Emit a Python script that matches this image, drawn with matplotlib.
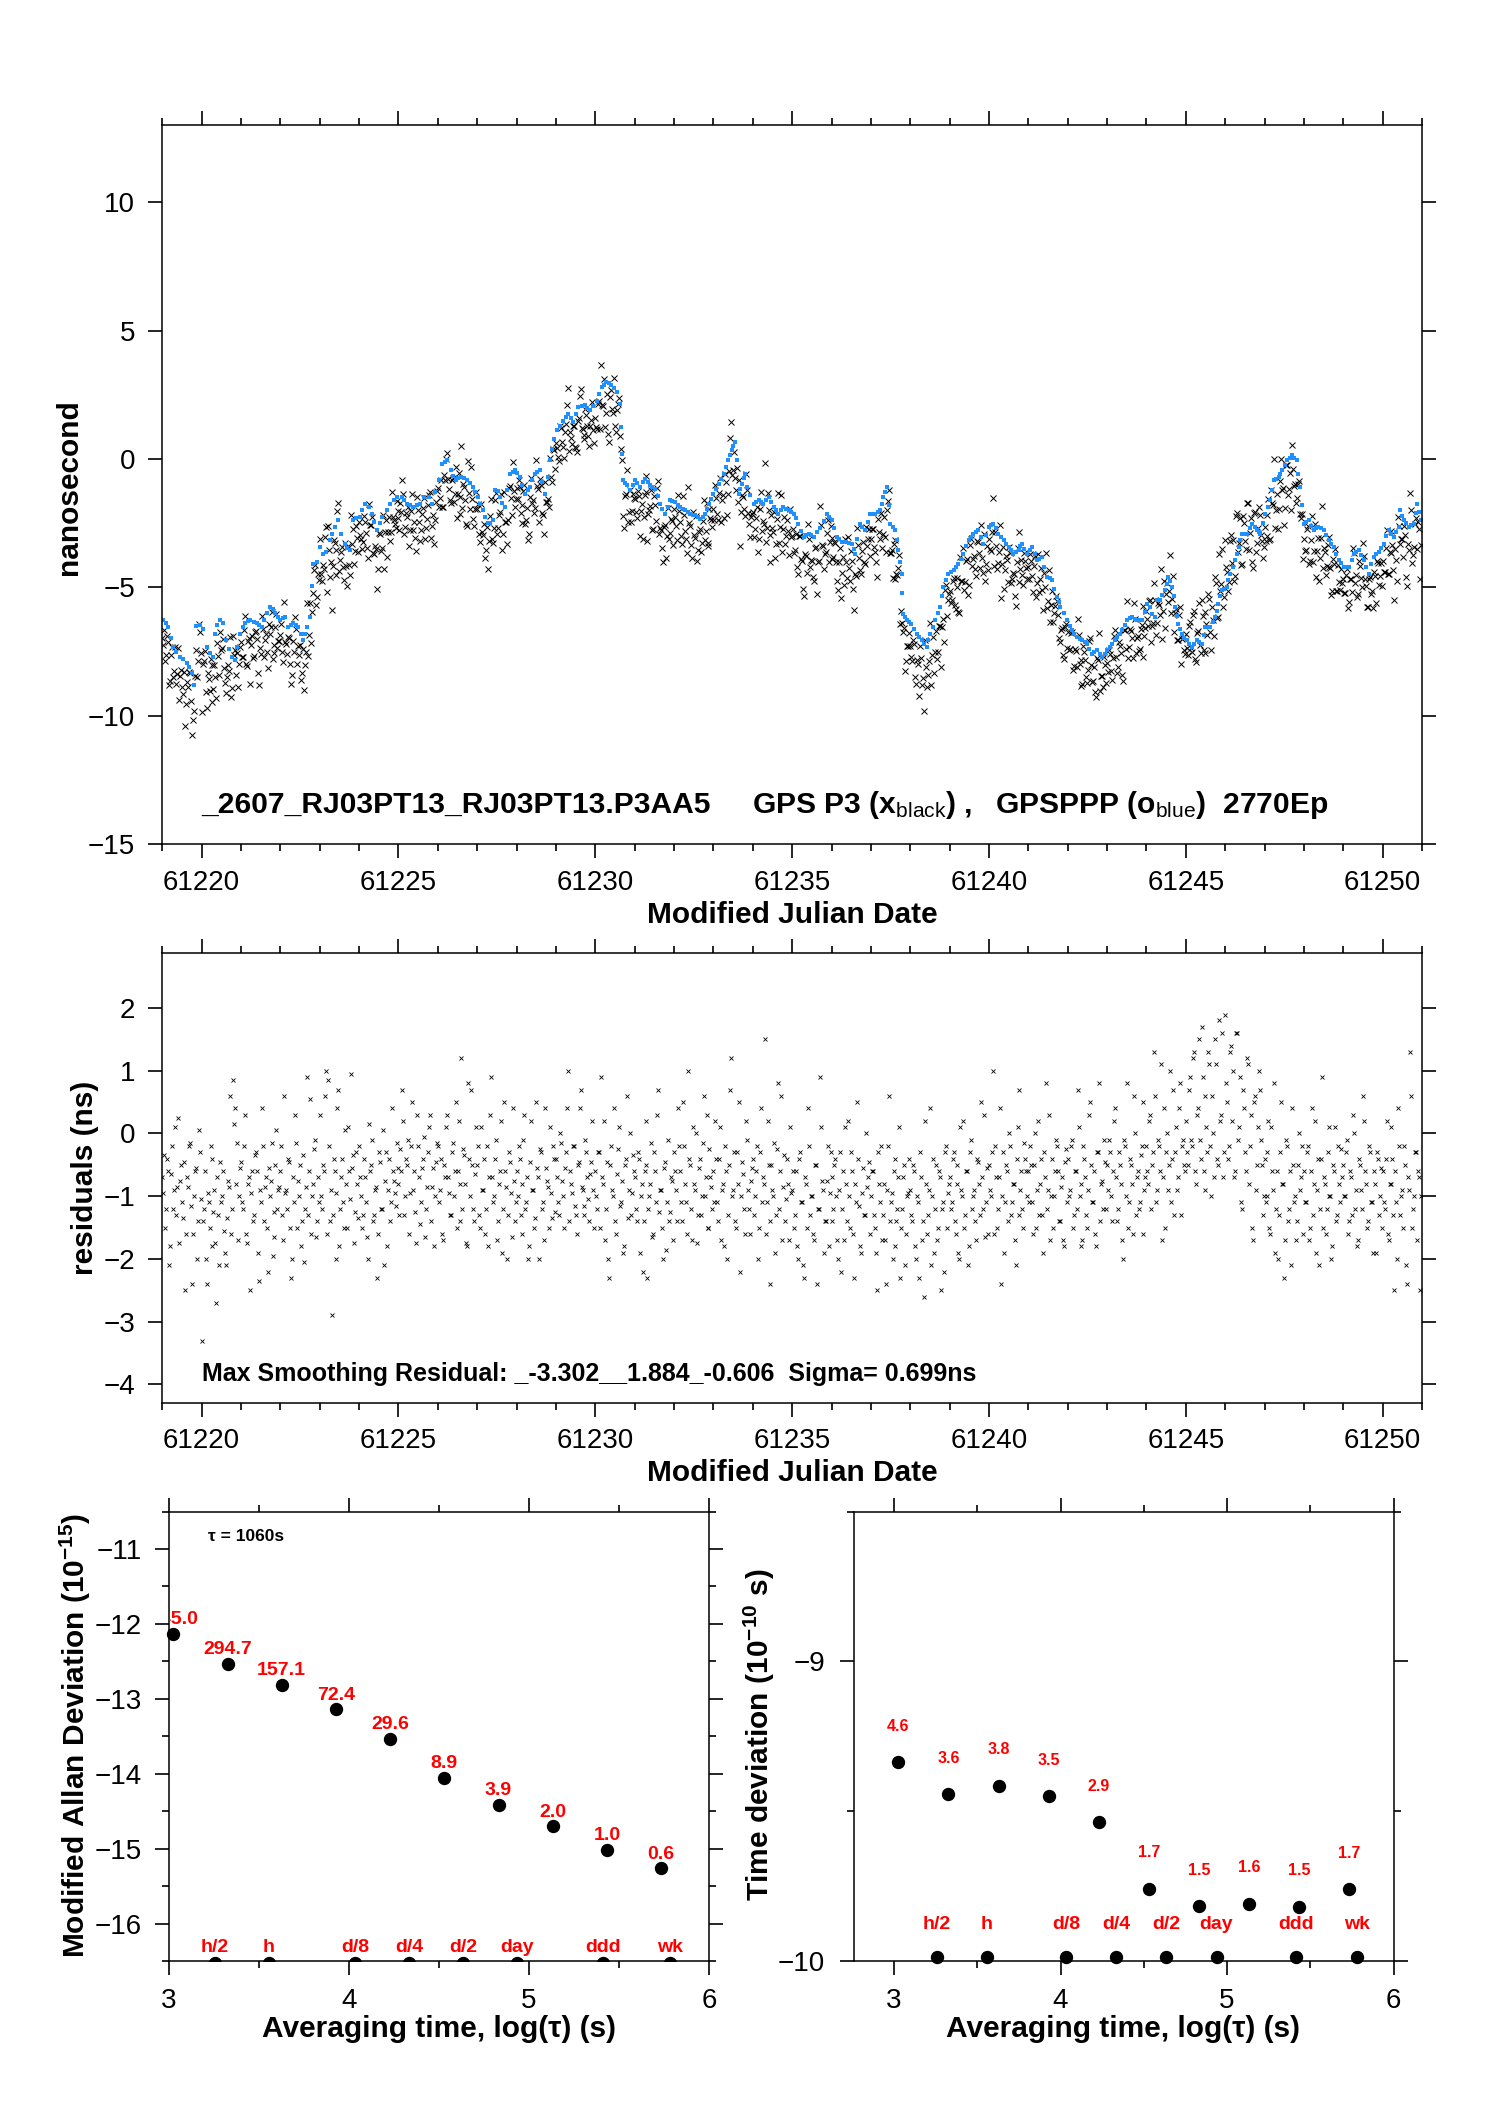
import numpy as np
import matplotlib
matplotlib.use("Agg")
import matplotlib.pyplot as plt
from matplotlib.ticker import MultipleLocator, NullLocator
from matplotlib.transforms import blended_transform_factory

# ---------------------------------------------------------------- data
# PPP (blue) smoothed series, MJD and ns
blue_mjd = [
 61219.03,61219.09,61219.15,61219.22,61219.28,61219.36,61219.45,61219.53,61219.62,61219.68,
 61219.75,61219.80,61219.86,61219.95,61220.04,61220.13,61220.21,61220.30,61220.34,61220.40,
 61220.47,61220.55,61220.63,61220.70,61220.76,61220.85,61220.91,61220.97,61221.04,61221.10,
 61221.17,61221.23,61221.32,61221.40,61221.46,61221.52,61221.59,61221.65,61221.74,61221.80,
 61221.86,61221.93,61221.99,61222.06,61222.12,61222.20,61222.27,61222.33,61222.39,61222.45,
 61222.52,61222.58,61222.63,61222.67,61222.75,61222.80,61222.84,61222.92,61223.00,61223.09,
 61223.17,61223.26,61223.32,61223.38,61223.47,61223.55,61223.64,61223.70,61223.77,61223.85,
 61223.93,61224.02,61224.08,61224.15,61224.24,61224.32,61224.39,61224.45,61224.52,61224.58,
 61224.70,61224.79,61224.88,61224.96,61225.08,61225.15,61225.21,61225.30,61225.38,61225.47,
 61225.55,61225.64,61225.77,61225.85,61225.94,61226.02,61226.11,61226.18,61226.24,61226.33,
 61226.39,61226.45,61226.52,61226.58,61226.67,61226.75,61226.82,61226.88,61226.95,61227.01,
 61227.08,61227.14,61227.20,61227.27,61227.33,61227.39,61227.45,61227.52,61227.58,61227.64,
 61227.70,61227.76,61227.83,61227.90,61227.96,61228.02,61228.08,61228.15,61228.21,61228.28,
 61228.34,61228.40,61228.46,61228.52,61228.59,61228.65,61228.72,61228.80,61228.85,61228.89,
 61228.96,61229.02,61229.10,61229.18,61229.25,61229.31,61229.38,61229.44,61229.50,61229.56,
 61229.65,61229.73,61229.80,61229.86,61229.95,61230.03,61230.10,61230.16,61230.22,61230.28,
 61230.35,61230.41,61230.48,61230.54,61230.62,61230.66,61230.69,61230.71,61230.76,61230.80,
 61230.88,61230.95,61231.01,61231.07,61231.13,61231.20,61231.26,61231.33,61231.39,61231.45,
 61231.52,61231.58,61231.64,61231.70,61231.77,61231.84,61231.90,61231.96,61232.03,61232.09,
 61232.15,61232.22,61232.28,61232.35,61232.41,61232.48,61232.54,61232.60,61232.66,61232.73,
 61232.79,61232.84,61232.88,61232.94,61233.00,61233.07,61233.13,61233.20,61233.26,61233.32,
 61233.38,61233.43,61233.47,61233.51,61233.55,61233.60,61233.64,61233.68,61233.72,61233.77,
 61233.81,61233.85,61233.92,61234.02,61234.08,61234.15,61234.21,61234.27,61234.33,61234.40,
 61234.47,61234.53,61234.59,61234.65,61234.72,61234.78,61234.85,61234.91,61234.97,61235.04,
 61235.10,61235.16,61235.23,61235.29,61235.36,61235.42,61235.49,61235.55,61235.63,61235.72,
 61235.80,61235.88,61235.94,61236.00,61236.07,61236.13,61236.20,61236.26,61236.32,61236.38,
 61236.45,61236.51,61236.56,61236.60,61236.66,61236.72,61236.78,61236.85,61236.92,61236.98,
 61237.05,61237.11,61237.17,61237.23,61237.28,61237.32,61237.36,61237.40,61237.45,61237.49,
 61237.55,61237.61,61237.66,61237.70,61237.74,61237.78,61237.80,61237.82,61237.87,61237.91,
 61237.97,61238.03,61238.10,61238.16,61238.22,61238.29,61238.35,61238.42,61238.46,61238.50,
 61238.57,61238.63,61238.70,61238.76,61238.80,61238.84,61238.90,61238.97,61239.04,61239.10,
 61239.16,61239.22,61239.29,61239.35,61239.42,61239.48,61239.54,61239.60,61239.67,61239.73,
 61239.80,61239.86,61239.93,61239.99,61240.05,61240.11,61240.18,61240.24,61240.30,61240.37,
 61240.44,61240.50,61240.56,61240.62,61240.69,61240.75,61240.80,61240.84,61240.90,61240.97,
 61241.03,61241.09,61241.16,61241.22,61241.28,61241.35,61241.41,61241.47,61241.54,61241.60,
 61241.66,61241.73,61241.77,61241.81,61241.90,61241.98,61242.05,61242.11,61242.17,61242.24,
 61242.30,61242.36,61242.43,61242.49,61242.55,61242.62,61242.68,61242.75,61242.81,61242.88,
 61242.94,61243.00,61243.07,61243.13,61243.20,61243.26,61243.32,61243.39,61243.45,61243.51,
 61243.58,61243.64,61243.70,61243.77,61243.83,61243.89,61243.96,61244.02,61244.09,61244.15,
 61244.22,61244.27,61244.34,61244.40,61244.47,61244.52,61244.56,61244.60,61244.64,61244.69,
 61244.73,61244.77,61244.81,61244.86,61244.90,61244.96,61245.02,61245.08,61245.15,61245.21,
 61245.28,61245.34,61245.40,61245.45,61245.49,61245.55,61245.62,61245.68,61245.74,61245.78,
 61245.83,61245.87,61245.91,61245.98,61246.04,61246.08,61246.13,61246.19,61246.25,61246.30,
 61246.34,61246.38,61246.42,61246.49,61246.55,61246.62,61246.68,61246.75,61246.81,61246.85,
 61246.89,61246.96,61247.02,61247.08,61247.14,61247.19,61247.23,61247.30,61247.36,61247.40,
 61247.44,61247.51,61247.57,61247.64,61247.70,61247.76,61247.82,61247.86,61247.89,61247.94,
 61247.99,61248.06,61248.12,61248.19,61248.25,61248.31,61248.37,61248.44,61248.50,61248.57,
 61248.63,61248.70,61248.76,61248.82,61248.88,61248.95,61249.01,61249.08,61249.14,61249.21,
 61249.27,61249.33,61249.39,61249.46,61249.52,61249.59,61249.65,61249.71,61249.77,61249.84,
 61249.90,61249.97,61250.03,61250.09,61250.15,61250.22,61250.28,61250.35,61250.41,61250.45,
 61250.50,61250.54,61250.60,61250.66,61250.73,61250.79,61250.84,61250.88,61250.93,61250.98]
blue_ns = [
 -6.28,-6.40,-6.54,-6.95,-7.32,-7.50,-7.70,-7.80,-7.96,-8.10,
 -8.35,-8.80,-6.50,-6.45,-6.60,-7.32,-7.57,-7.70,-6.80,-6.45,
 -6.28,-6.40,-7.06,-7.40,-7.70,-7.83,-7.30,-6.80,-6.55,-6.40,
 -6.30,-6.27,-6.35,-6.40,-6.45,-6.53,-6.25,-6.00,-5.76,-5.85,
 -6.00,-6.15,-6.28,-6.20,-6.15,-6.53,-6.45,-6.40,-6.45,-6.53,
 -6.80,-7.06,-6.80,-6.53,-6.15,-4.95,-4.07,-4.00,-3.42,-3.68,
 -3.62,-3.16,-2.90,-2.64,-2.38,-2.90,-3.29,-3.45,-3.55,-2.38,
 -2.30,-2.26,-2.00,-1.74,-1.87,-2.13,-2.45,-2.77,-2.50,-2.26,
 -2.00,-1.74,-1.60,-1.48,-1.48,-1.60,-1.74,-1.80,-1.87,-1.80,
 -1.74,-1.48,-1.48,-1.74,-1.30,-0.82,-0.18,-0.10,-0.05,-0.44,
 -0.65,-0.82,-0.75,-0.69,-0.75,-0.82,-0.95,-1.08,-1.30,-1.48,
 -1.75,-2.00,-2.25,-2.50,-2.50,-2.38,-1.20,-1.25,-1.48,-1.70,
 -1.87,-1.20,-0.57,-0.50,-0.44,-0.55,-0.70,-1.00,-1.35,-1.20,
 -1.09,-0.80,-0.57,-0.50,-0.44,-0.90,-1.35,-0.70,-0.05,0.41,
 0.80,1.12,1.30,1.50,1.65,1.77,1.60,1.44,1.75,2.03,
 2.05,2.09,2.00,1.90,2.05,2.28,2.55,2.80,2.90,3.00,
 2.95,2.87,2.75,2.61,2.15,1.25,0.20,-0.83,-0.95,-1.02,
 -1.22,-1.00,-0.83,-0.95,-1.09,-0.90,-0.76,-0.90,-1.02,-1.10,
 -1.15,-1.45,-1.74,-1.95,-2.13,-1.85,-1.61,-1.65,-1.67,-1.77,
 -1.87,-1.95,-2.00,-2.07,-2.13,-2.16,-2.19,-2.25,-2.32,-2.25,
 -2.13,-1.95,-1.74,-1.55,-1.35,-1.15,-0.96,-0.77,-0.57,-0.30,
 -0.05,0.15,0.35,0.50,0.67,-0.05,-1.35,-1.15,-0.96,-0.75,
 -0.57,-1.09,-1.40,-1.74,-1.68,-1.61,-1.68,-1.74,-1.60,-1.48,
 -1.68,-1.87,-2.00,-2.13,-2.00,-1.87,-1.95,-2.00,-2.07,-2.13,
 -2.30,-2.52,-2.80,-3.03,-2.95,-2.90,-2.95,-3.03,-2.85,-2.70,
 -2.40,-2.13,-2.25,-2.38,-2.70,-3.03,-3.12,-3.22,-3.22,-3.22,
 -3.25,-3.29,-3.50,-3.68,-3.10,-2.52,-2.65,-2.77,-2.45,-2.13,
 -2.13,-2.13,-2.05,-2.00,-1.75,-1.48,-1.30,-1.09,-1.80,-2.52,
 -2.65,-2.77,-3.15,-3.55,-4.00,-4.46,-5.20,-6.02,-6.15,-6.28,
 -6.35,-6.41,-6.60,-6.80,-6.93,-7.06,-7.20,-7.32,-7.05,-6.80,
 -6.55,-6.28,-6.00,-5.76,-5.35,-4.98,-4.70,-4.46,-4.40,-4.33,
 -4.20,-4.07,-3.88,-3.68,-3.40,-3.16,-3.03,-2.90,-2.85,-2.77,
 -3.05,-3.29,-2.95,-2.64,-2.58,-2.52,-2.70,-2.90,-3.03,-3.16,
 -3.30,-3.42,-3.55,-3.68,-3.60,-3.55,-3.40,-3.29,-3.50,-3.68,
 -3.55,-3.42,-3.70,-3.94,-3.88,-3.81,-4.20,-4.59,-4.65,-4.72,
 -5.05,-5.37,-5.55,-5.76,-6.00,-6.28,-6.50,-6.67,-6.80,-6.93,
 -7.00,-7.06,-7.12,-7.19,-7.40,-7.58,-7.50,-7.45,-7.60,-7.71,
 -7.60,-7.45,-7.30,-7.19,-7.05,-6.93,-6.80,-6.67,-6.45,-6.28,
 -6.20,-6.15,-6.22,-6.28,-6.28,-6.28,-5.95,-5.63,-5.76,-6.02,
 -6.15,-5.50,-5.50,-5.30,-5.11,-4.85,-4.59,-4.75,-4.98,-5.35,
 -5.76,-6.10,-6.41,-6.60,-6.80,-6.95,-7.06,-7.20,-7.32,-7.20,
 -7.06,-7.12,-7.19,-6.85,-6.54,-6.54,-6.54,-6.35,-6.15,-5.90,
 -5.63,-5.35,-5.11,-5.05,-4.98,-4.70,-4.46,-4.20,-3.94,-3.70,
 -3.42,-3.15,-2.90,-2.90,-2.90,-2.70,-2.51,-2.65,-2.77,-2.85,
 -2.90,-2.50,-2.13,-1.85,-1.61,-1.20,-0.83,-0.77,-0.70,-0.57,
 -0.44,-0.25,-0.05,0.05,0.15,0.05,-0.05,-0.60,-1.09,-1.80,
 -2.51,-2.45,-2.38,-2.60,-2.77,-2.70,-2.64,-2.70,-2.77,-2.95,
 -3.16,-3.30,-3.42,-3.70,-3.94,-4.05,-4.20,-4.20,-4.20,-3.95,
 -3.68,-3.60,-3.55,-3.75,-3.94,-4.20,-4.46,-4.10,-3.81,-3.70,
 -3.61,-3.45,-3.29,-3.00,-2.77,-2.90,-3.03,-2.85,-2.64,-2.00,
 -2.20,-2.38,-2.50,-2.64,-2.58,-2.51,-2.10,-1.74,-2.05,-2.38]

# P3 smoothing residuals (units of 0.01 ns), two interleaved regular epoch grids
res_start_mjd = 61219.0
res_step_day = 0.05
res_b_start_mjd = 61219.025
residual_a_cns = [
 -70,-35,-120,-60,-180,-20,-90,-130,25,-75,-110,-45,-160,-85,-15,-240,-100,-55,-140,-30,
 -330,-120,-200,-95,-150,-40,-125,-175,-70,-210,-110,-60,-190,-135,-85,-160,85,40,-15,-100,
 -45,-120,30,-175,-70,-95,-140,-35,-60,-235,-110,-20,-85,-150,-55,-75,-195,-125,5,-90,
 -60,-130,60,-90,-40,-150,-200,-110,-15,-75,-50,-140,-205,-85,-130,55,-100,-25,-165,-70,
 30,-120,-60,100,85,-140,-290,-40,-95,40,-180,-70,-110,5,-150,-60,95,-35,-125,-80,
 -20,-100,-130,-70,-165,15,-50,-140,-90,-230,-30,-120,5,-75,-180,-40,-110,-60,-95,-15,
 -80,-25,70,-130,-40,-10,-95,50,-60,-175,-20,-145,-55,-5,-120,-30,30,-85,-180,-45,
 -20,-90,-160,-50,10,-70,-130,-30,-100,50,-60,-140,120,-25,-80,-180,-40,70,-120,-65,
 -50,-130,10,-90,-160,-20,-70,90,-110,-40,-170,-80,20,-120,-60,-200,-30,-95,40,-140,
 -60,-20,-130,-80,30,-110,-200,-45,-90,-150,50,-70,-25,-120,-170,-55,-85,10,-135,-40,
 -40,-110,0,-75,-150,-30,100,-60,-95,-20,-130,-50,40,-85,-115,-10,-70,-140,-45,-90,
 -60,-120,-30,90,-80,-170,-45,-230,-20,-100,-140,-65,10,-110,-190,-50,60,-90,-130,-35,
 -70,-140,-40,-100,-220,-60,20,-120,-80,-165,-30,-110,70,-90,-150,-55,-185,-10,-125,-75,
 -30,-90,40,-60,-140,-20,-110,100,-50,-170,-80,0,-130,-40,-100,60,-70,-150,-25,-85,
 -60,20,-110,-40,-170,-80,-20,-200,-50,120,-90,-140,-30,50,-100,-65,-160,-10,-120,-75,
 -40,-100,-20,-150,40,-70,150,-110,-50,-240,-90,-15,-130,80,-60,-170,-35,-105,-80,10,
 -90,-150,-60,-200,-30,-110,-230,-80,40,-130,-100,-170,-50,-120,90,-75,-190,-140,-20,-95,
 -70,-120,-40,-170,-90,-220,-60,10,-140,-100,-30,-160,-80,50,-115,-190,-55,-130,-85,-45,
 -100,-60,-150,-250,-80,-20,-130,-170,-90,60,-110,-200,-40,-140,-70,-230,-120,-50,-160,-95,
 -90,-140,-60,-200,-110,-30,-170,-260,-80,-130,40,-100,-190,-50,-150,-70,-120,-220,-20,-95,
 -70,-110,-30,-160,-50,-200,-90,20,-130,-60,-180,-10,-100,-140,-40,-80,50,-120,-165,-55,
 -50,-100,100,-20,-150,-70,-240,-30,-110,-60,0,-130,-80,-170,-40,70,-90,-120,-15,-60,
 -60,-20,-110,-50,-150,20,-80,-130,-30,80,-90,-170,-40,-100,-10,-60,-140,-70,-180,-25,
 -40,-90,-10,-130,-60,70,-100,-180,-20,-70,-150,30,-50,-110,-160,-30,80,-80,-120,-45,
 -50,-10,-100,-60,40,-140,-30,-80,-200,-20,80,-110,-50,-160,0,-70,-120,-35,50,-90,
 -20,-80,30,-50,130,-110,-10,-60,-170,40,-30,-90,100,-40,-130,10,-70,80,-20,-50,
 20,-50,90,-20,130,-80,40,-10,170,-60,60,-30,110,-100,0,150,-40,180,30,-70,
 188,50,-20,140,100,-60,160,10,-110,70,-30,120,-80,30,-170,60,-50,100,-10,-130,
 -40,-100,20,-160,-60,80,-120,-200,-30,-80,-230,-10,-140,-60,40,-110,-170,-50,-90,-20,
 -60,-110,-20,-150,40,-80,-190,-40,-120,90,-70,-160,-30,-100,-200,-50,10,-130,-80,-25,
 -50,-100,-10,-140,-70,30,-120,-180,-40,-90,60,-60,-150,-20,-110,-190,-80,-30,-130,-55,
 -60,-120,20,-170,-80,-40,-250,-110,40,-130,-90,-20,-210,-70,130,-150,-100,-30,-60,-250]
residual_b_cns = [
 -95,-150,-40,-210,-65,-120,10,-85,-175,-50,-135,-250,-70,-20,-115,-160,-60,-200,5,-105,
 -140,-60,-240,-110,-20,-180,-90,-270,-130,-45,-100,-155,-210,-75,60,-120,15,-80,-170,-55,
 -110,-20,-160,-80,-250,-60,-130,-30,-190,-90,40,-140,-70,-220,-100,-15,-165,-50,-120,-85,
 -20,-170,-95,-120,-45,-230,-70,30,-150,-100,-180,-35,-120,90,-60,-160,-80,-10,-140,-110,
 -100,-50,60,-160,-20,-90,-130,-60,-200,70,-120,-40,-150,-80,10,-105,-55,-175,-30,-135,
 -70,-150,-40,-110,-200,-60,-10,-130,-85,-160,-45,-120,-210,-30,-90,-140,40,-75,-115,-55,
 -130,-60,20,-100,-50,-160,-20,-90,-125,30,-70,-110,-40,-165,-85,10,-140,-55,-100,-15,
 -110,-40,-170,-70,30,-95,-130,-15,-60,-150,20,-80,-120,-35,-175,80,-100,-50,-140,10,
 -20,-150,-90,-40,-120,-180,30,-70,-100,-10,-140,-60,-190,50,-85,-130,-45,-165,-75,-110,
 -100,-40,-160,-10,-120,-70,-180,20,-90,-135,-55,-200,-30,-110,40,-75,-150,-95,-20,-125,
 -70,-130,-15,-100,-55,40,-140,-80,-20,-115,-160,-45,70,-90,-130,-30,-105,-65,20,-150,
 -100,-30,-150,-70,20,-120,-200,-50,-90,40,-160,-25,-115,-75,-180,-40,-135,0,-95,-60,
 -120,-30,-190,-80,-140,-50,-230,-100,-15,-160,-60,30,-125,-90,-200,-45,-110,-140,-70,-170,
 -60,-140,-20,-110,50,-80,-160,-40,-120,10,-90,-175,-55,-130,-15,-100,30,-150,-70,-120,
 -110,-40,-140,10,-90,-180,-60,-130,70,-100,-30,-150,-80,-220,-45,-120,20,-90,-160,-55,
 -130,-60,-200,-30,-110,-80,-160,20,-140,-50,-100,-190,-25,-120,60,-85,-140,-40,-170,-95,
 -60,-130,-180,-40,-110,-210,-70,-150,-20,-100,-160,-50,-240,-120,10,-90,-140,-75,-180,-30,
 -140,-50,-100,-200,-30,-120,-170,-80,20,-150,-60,-230,-110,-40,-180,-95,-130,0,-70,-160,
 -60,-130,-190,-30,-110,-170,-80,-240,-20,-140,-95,-60,-180,-120,10,-150,-70,-210,-100,-40,
 -130,-50,-180,-100,-230,-70,-140,20,-160,-90,-210,-40,-120,-170,-60,-250,-110,-30,-150,-80,
 -120,-40,-140,-80,-190,10,-100,-150,-60,-210,-30,-120,-90,-170,-45,-130,-70,30,-110,-160,
 -90,-30,-160,-70,-120,40,-100,-190,-50,-140,-20,-110,-80,-210,10,-130,-60,-150,-40,-100,
 -110,-50,-160,0,-90,-130,-40,-190,-70,-120,30,-100,-150,-60,-20,-140,-85,-170,-45,-110,
 -100,-20,-150,-60,-120,10,-80,-170,-40,-130,-90,50,-110,-60,-180,-30,-140,-75,-10,-120,
 -90,-30,-140,20,-70,-120,-50,-170,-10,-100,-150,-40,-80,60,-130,-60,-110,-20,-160,-70,
 -60,20,-120,-30,60,-90,-20,110,-70,-150,0,-50,-110,70,-30,-90,40,-130,-10,-60,
 -30,70,-10,120,-60,30,150,-40,90,-90,10,130,-20,60,-70,110,-50,20,160,-30,
 80,-40,130,20,-70,160,-10,90,-120,40,-60,110,-20,-150,50,-90,10,70,-50,-100,
 -110,-30,-150,10,-90,-190,-60,-130,50,-80,-170,-20,-120,-210,-50,-100,-140,0,-70,-160,
 -110,-30,-170,-60,-130,20,-90,-210,-40,-150,-80,-120,10,-100,-180,-60,-140,-20,-110,-70,
 -100,-30,-160,-60,-130,0,-90,-170,-50,-120,20,-80,-140,-30,-110,-60,-190,-40,-100,-150,
 -110,-40,-160,-80,10,-130,-60,-200,-20,-100,-150,-50,-240,-90,60,-120,-30,-170,-70,-100]

# stability analysis
tau_s = [1060, 2120, 4240, 8480, 16960, 33920, 67840, 135680, 271360, 542720]
adev_log = [-12.13, -12.53, -12.81, -13.14, -13.53, -14.05, -14.41, -14.70, -15.01, -15.26]
adev_labels = ["745.0", "294.7", "157.1", "72.4", "29.6", "8.9", "3.9", "2.0", "1.0", "0.6"]
tdev_log = [-9.336, -9.443, -9.415, -9.450, -9.536, -9.758, -9.817, -9.809, -9.819, -9.760]
tdev_labels = ["4.6", "3.6", "3.8", "3.5", "2.9", "1.7", "1.5", "1.6", "1.5", "1.7"]
ref_names = ["h/2", "h", "d/8", "d/4", "d/2", "day", "ddd", "wk"]
ref_tau_s = [1800, 3600, 10800, 21600, 43200, 86400, 259200, 604800]

top_title_a = "_2607_RJ03PT13_RJ03PT13.P3AA5"
top_title_b = r"GPS P3 (x$_{\mathrm{black}}$) ,"
top_title_c = r"GPSPPP (o$_{\mathrm{blue}}$)  2770Ep"
mid_title = "Max Smoothing Residual: _-3.302__1.884_-0.606  Sigma= 0.699ns"
tau0_text = "\u03c4 = 1060s"

# ---------------------------------------------------------------- style
plt.rcParams['font.family'] = ['Liberation Sans', 'DejaVu Sans']
plt.rcParams['mathtext.fontset'] = 'custom'
plt.rcParams['mathtext.rm'] = 'Liberation Sans'
plt.rcParams['mathtext.bf'] = 'Liberation Sans:bold'
plt.rcParams['mathtext.it'] = 'Liberation Sans:italic'

W, H = 1488, 2105
fig = plt.figure(figsize=(W / 100, H / 100), dpi=100)


def rect(l, t, r, b):
    return [l / W, 1 - b / H, (r - l) / W, (b - t) / H]


def ftext(x, y, s, **kw):
    return fig.text(x / W, 1 - y / H, s, **kw)


def style(ax, xpad, ypad):
    ax.tick_params(which='both', direction='out', top=True, right=True,
                   width=1.2, colors='black')
    ax.tick_params(which='major', length=10)
    ax.tick_params(which='minor', length=5)
    ax.tick_params(axis='x', which='both', pad=xpad, labelsize=20)
    ax.tick_params(axis='y', which='both', pad=ypad, labelsize=20)
    for s in ax.spines.values():
        s.set_linewidth(1.1)


res_a = np.array(residual_a_cns) / 100.0
res_b = np.array(residual_b_cns) / 100.0
res_mjd = np.concatenate([res_start_mjd + res_step_day * np.arange(len(res_a)),
                          res_b_start_mjd + res_step_day * np.arange(len(res_b))])
res_ns = np.concatenate([res_a, res_b])
black_ns = np.interp(res_mjd, blue_mjd, blue_ns) + res_ns

# ---------------- top panel
ax1 = fig.add_axes(rect(162.3, 125.3, 1422, 844.2))
ax1.plot(res_mjd, black_ns, linestyle='none', marker='x', ms=3.8, mew=0.7, color='black')
ax1.plot(blue_mjd, blue_ns, linestyle='none', marker='s', ms=3.2, mew=0, color='#1e90ff')
ax1.set_xlim(61219, 61251)
ax1.set_ylim(-15, 13)
ax1.xaxis.set_major_locator(MultipleLocator(5))
ax1.xaxis.set_minor_locator(MultipleLocator(1))
ax1.yaxis.set_major_locator(MultipleLocator(5))
ax1.yaxis.set_minor_locator(NullLocator())
ax1.ticklabel_format(axis='x', useOffset=False, style='plain')
style(ax1, 8.5, 9.6)
ftext(201, 813, top_title_a, fontsize=21.6, fontweight='bold', ha='left', va='baseline')
ftext(752, 813, top_title_b, fontsize=21.6, fontweight='bold', ha='left', va='baseline')
ftext(995, 813, top_title_c, fontsize=21.6, fontweight='bold', ha='left', va='baseline')
ftext(77, 487, "nanosecond", fontsize=21.5, fontweight='bold', rotation=90,
      rotation_mode='anchor', ha='center', va='baseline')
ftext(792, 923, "Modified Julian Date", fontsize=21.5, fontweight='bold',
      ha='center', va='baseline')

# ---------------- residual panel
ax2 = fig.add_axes(rect(162.3, 953.3, 1422, 1402.7))
ax2.plot(res_mjd, res_ns, linestyle='none', marker='x', ms=3.1, mew=0.6, color='black')
ax2.set_xlim(61219, 61251)
ax2.set_ylim(-4.29, 2.87)
ax2.xaxis.set_major_locator(MultipleLocator(5))
ax2.xaxis.set_minor_locator(MultipleLocator(1))
ax2.yaxis.set_major_locator(MultipleLocator(1))
ax2.yaxis.set_minor_locator(NullLocator())
ax2.ticklabel_format(axis='x', useOffset=False, style='plain')
style(ax2, 8.5, 9.6)
ftext(202, 1381, mid_title, fontsize=18, fontweight='bold', ha='left', va='baseline')
ftext(93, 1178, "residuals (ns)", fontsize=21.5, fontweight='bold', rotation=90,
      rotation_mode='anchor', ha='center', va='baseline')
ftext(792, 1481, "Modified Julian Date", fontsize=21.5, fontweight='bold',
      ha='center', va='baseline')

log_tau = np.log10(tau_s)
log_ref = np.log10(ref_tau_s)

# ---------------- MDEV panel
ax3 = fig.add_axes(rect(168.8, 1511.5, 708.9, 1961.2))
ax3.plot(log_tau, adev_log, linestyle='none', marker='o', ms=8.6, color='black', clip_on=False)
for x, y, s in zip(log_tau, adev_log, adev_labels):
    t = ax3.text(x, y + 0.19, s, color='red', fontsize=14, fontweight='bold',
                 ha='center', va='center')
    t.set_clip_on(True)
    t.set_clip_box(ax3.bbox)
tr3 = blended_transform_factory(ax3.transData, ax3.transAxes)
ax3.plot(log_ref, [-0.004] * len(log_ref), linestyle='none', marker='o', ms=8.6,
         color='black', transform=tr3, clip_on=True)
for x, s in zip(log_ref, ref_names):
    ax3.text(x, 0.03, s, color='red', fontsize=14, fontweight='bold',
             ha='center', va='center', transform=tr3)
ax3.text(0.073, 0.945, tau0_text, transform=ax3.transAxes, fontsize=12.5,
         fontweight='bold', ha='left', va='center')
ax3.set_xlim(3, 6)
ax3.set_ylim(-16.5, -10.5)
ax3.xaxis.set_major_locator(MultipleLocator(1))
ax3.xaxis.set_minor_locator(MultipleLocator(0.5))
ax3.yaxis.set_major_locator(MultipleLocator(1))
ax3.yaxis.set_minor_locator(MultipleLocator(0.5))
style(ax3, 9.5, 9.5)
ftext(85, 1735, r"Modified Allan Deviation (10$^{\mathbf{-15}}$)", fontsize=21.5,
      fontweight='bold', rotation=90, rotation_mode='anchor', ha='center', va='baseline')
ftext(439, 2037, "Averaging time, log(\u03c4) (s)", fontsize=21.5, fontweight='bold',
      ha='center', va='baseline')

# ---------------- TDEV panel
ax4 = fig.add_axes(rect(853.5, 1511.5, 1393.6, 1961.2))
ax4.plot(log_tau, tdev_log, linestyle='none', marker='o', ms=8.6, color='black', clip_on=False)
for x, y, s in zip(log_tau, tdev_log, tdev_labels):
    ax4.text(x, y + 0.12, s, color='red', fontsize=11.5, fontweight='bold',
             ha='center', va='center')
tr4 = blended_transform_factory(ax4.transData, ax4.transAxes)
ax4.plot(log_ref, [0.009] * len(log_ref), linestyle='none', marker='o', ms=8.6,
         color='black', transform=tr4, clip_on=False)
for x, s in zip(log_ref, ref_names):
    ax4.text(x, 0.081, s, color='red', fontsize=14, fontweight='bold',
             ha='center', va='center', transform=tr4)
ax4.set_xlim(2.756, 6)
ax4.set_ylim(-10, -8.5)
ax4.xaxis.set_major_locator(MultipleLocator(1))
ax4.xaxis.set_minor_locator(MultipleLocator(0.5))
ax4.yaxis.set_major_locator(MultipleLocator(1))
ax4.yaxis.set_minor_locator(MultipleLocator(0.5))
style(ax4, 9.5, 10.4)
ftext(768.6, 1735, r"Time deviation (10$^{\mathbf{-10}}$ s)", fontsize=21.5,
      fontweight='bold', rotation=90, rotation_mode='anchor', ha='center', va='baseline')
ftext(1123.5, 2037, "Averaging time, log(\u03c4) (s)", fontsize=21.5, fontweight='bold',
      ha='center', va='baseline')

fig.savefig("out.png", dpi=100)
